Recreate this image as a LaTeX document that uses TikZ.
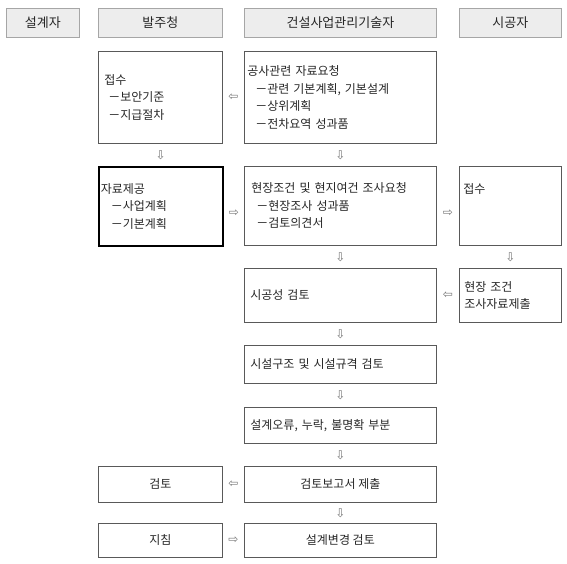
\documentclass[tikz,border=0pt]{standalone}
\usepackage{fontspec}
\setmainfont{Noto Sans CJK KR}
\newfontfamily\arrowfont{DejaVu Sans}
\begin{document}
\begin{tikzpicture}[x=1pt,y=-1pt,
  hdr/.style={draw=gray!70, fill=gray!14, line width=0.8pt, anchor=north west,
    inner sep=0pt, text=black!85, font=\fontsize{13}{15}\selectfont},
  box/.style={draw=black!65, line width=0.7pt, anchor=north west, inner ysep=0pt,
    text=black!85, font=\fontsize{12}{17.6}\selectfont},
  thickbox/.style={box, draw=black, line width=1.6pt},
  arr/.style={font=\arrowfont\fontsize{12}{12}\selectfont, text=gray!90!black, inner sep=0pt}
]
\useasboundingbox (0,0) rectangle (567,563);
% headers
\node[hdr, minimum width=73pt, minimum height=29pt] (h1) at (6,8) {설계자};
\node[hdr, minimum width=124pt, minimum height=29pt] (h2) at (98,8) {발주청};
\node[hdr, minimum width=192pt, minimum height=29pt] (h3) at (244,8) {건설사업관리기술자};
\node[hdr, minimum width=102pt, minimum height=29pt] (h4) at (459,8) {시공자};
% row 1
\node[box, minimum width=124pt, minimum height=92pt, inner xsep=6pt, text width=112pt, align=left]
  (r1b) at (98,51) {접수\\\hspace*{4pt}－보안기준\\\hspace*{4pt}－지급절차};
\node[box, minimum width=192pt, minimum height=92pt, inner xsep=3pt, text width=186pt, align=left]
  (r1c) at (244,51) {공사관련 자료요청\\\hspace*{8pt}－관련 기본계획, 기본설계\\\hspace*{8pt}－상위계획\\\hspace*{8pt}－전차요역 성과품};
% row 2
\node[thickbox, minimum width=124pt, minimum height=79pt, inner xsep=2pt, text width=120pt, align=left]
  (r2b) at (98,166) {자료제공\\\hspace*{10pt}－사업계획\\\hspace*{10pt}－기본계획};
\node[box, minimum width=192pt, minimum height=79pt, inner xsep=7pt, text width=178pt, align=left]
  (r2c) at (244,166) {현장조건 및 현지여건 조사요청\\\hspace*{5pt}－현장조사 성과품\\\hspace*{5pt}－검토의견서};
\node[box, minimum width=102pt, minimum height=79pt, inner xsep=4pt, text width=94pt, align=left]
  (r2s) at (459,166) {접수\\\mbox{}\\\mbox{}};
% row 3
\node[box, minimum width=192pt, minimum height=54pt, inner xsep=6pt, text width=180pt, align=left]
  (r3c) at (244,268) {시공성 검토};
\node[box, minimum width=102pt, minimum height=54pt, inner xsep=5pt, text width=92pt, align=left]
  (r3s) at (459,268) {현장 조건\\조사자료제출};
% rows 4-5
\node[box, minimum width=192pt, minimum height=38pt, inner xsep=6pt, text width=180pt, align=left]
  (r4c) at (244,345) {시설구조 및 시설규격 검토};
\node[box, minimum width=192pt, minimum height=36pt, inner xsep=6pt, text width=180pt, align=left]
  (r5c) at (244,407) {설계오류, 누락, 불명확 부분};
% row 6
\node[box, minimum width=124pt, minimum height=36pt, align=center] (r6b) at (98,466) {검토};
\node[box, minimum width=192pt, minimum height=36pt, align=center] (r6c) at (244,466) {검토보고서 제출};
% row 7
\node[box, minimum width=124pt, minimum height=34pt, align=center] (r7b) at (98,523) {지침};
\node[box, minimum width=192pt, minimum height=34pt, align=center] (r7c) at (244,523) {설계변경 검토};
% connectors
\path (r1c) -- node[arr]{⇦} (r1b);
\path (r1b) -- node[arr]{⇩} (r2b);
\path (r1c) -- node[arr]{⇩} (r2c);
\path (r2b) -- node[arr, yshift=-7pt]{⇨} (r2c);
\path (r2c) -- node[arr, yshift=-7pt]{⇨} (r2s);
\path (r2c) -- node[arr]{⇩} (r3c);
\path (r2s) -- node[arr]{⇩} (r3s);
\path (r3s) -- node[arr]{⇦} (r3c);
\path (r3c) -- node[arr]{⇩} (r4c);
\path (r4c) -- node[arr]{⇩} (r5c);
\path (r5c) -- node[arr]{⇩} (r6c);
\path (r6c) -- node[arr]{⇦} (r6b);
\path (r6c) -- node[arr]{⇩} (r7c);
\path (r7b) -- node[arr]{⇨} (r7c);
\end{tikzpicture}
\end{document}
